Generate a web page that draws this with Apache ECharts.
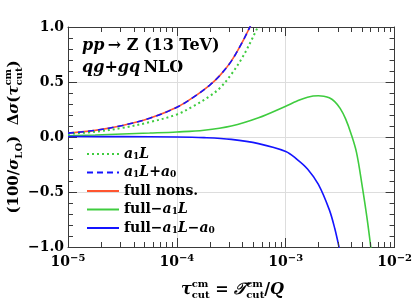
<!DOCTYPE html>
<html><head><meta charset="utf-8">
<script src="https://cdn.jsdelivr.net/npm/echarts@6/dist/echarts.min.js"></script>
<style>html,body{margin:0;padding:0;background:#fff}#c{width:415px;height:304px}</style>
</head><body><div id="c"></div>
<script>
// ---- data (x given as log10 of tau_cut) ----
const a1L_lt   = [-5.0, -4.75, -4.5, -4.25, -4.0, -3.85, -3.7, -3.6, -3.5, -3.4, -3.3, -3.2];
const a1L_y    = [0.028, 0.048, 0.083, 0.135, 0.205, 0.28, 0.37, 0.45, 0.57, 0.72, 0.91, 1.12];
const a1La0_lt = [-5.0, -4.75, -4.5, -4.25, -4.0, -3.85, -3.7, -3.6, -3.5, -3.4, -3.3, -3.25];
const a1La0_y  = [0.035, 0.06, 0.105, 0.17, 0.27, 0.36, 0.47, 0.565, 0.69, 0.86, 1.06, 1.17];
const full_lt  = [-5.0, -4.75, -4.5, -4.25, -4.0, -3.85, -3.7, -3.6, -3.5, -3.4, -3.3, -3.25];
const full_y   = [0.035, 0.06, 0.105, 0.17, 0.27, 0.36, 0.47, 0.565, 0.69, 0.86, 1.06, 1.17];
const fmA_lt   = [-5.0, -4.75, -4.5, -4.25, -4.0, -3.75, -3.5, -3.25, -3.0, -2.9, -2.8, -2.7, -2.65, -2.6, -2.55, -2.5, -2.45, -2.4, -2.35, -2.3, -2.25, -2.2];
const fmA_y    = [0.012, 0.018, 0.027, 0.036, 0.046, 0.062, 0.1, 0.175, 0.28, 0.325, 0.362, 0.375, 0.371, 0.356, 0.322, 0.26, 0.165, 0.03, -0.14, -0.43, -0.76, -1.15];
const fmAB_lt  = [-5.0, -4.5, -4.0, -3.75, -3.5, -3.25, -3.0, -2.9, -2.8, -2.7, -2.6, -2.55, -2.5];
const fmAB_y   = [0.004, 0.003, 0.0, -0.006, -0.022, -0.06, -0.132, -0.2, -0.29, -0.43, -0.66, -0.83, -1.05];
const xTickExps = [-5, -4, -3, -2];
const yTicks = [-1.0, -0.5, 0.0, 0.5, 1.0];
const seriesNames = ['a1L', 'a1L+a0', 'full nons.', 'full-a1L', 'full-a1L-a0'];

const toPts = (lt, y) => lt.map((e, i) => [Math.pow(10, e), y[i]]);
const xMin = Math.pow(10, xTickExps[0]), xMax = Math.pow(10, xTickExps[xTickExps.length - 1]);
const yMin = yTicks[0], yMax = yTicks[yTicks.length - 1];
const minorX = [];
for (let k = 0; k < xTickExps.length - 1; k++) for (let m = 2; m <= 9; m++) minorX.push(m * Math.pow(10, xTickExps[k]));

const SERIF = '"DejaVu Serif"';
const AX = '#3a3a3a';
const GREEN = '#3fcc3f', BLUE = '#1414ff', RED = '#ff5530';

// text layout helper for math-ish labels
const mctx = document.createElement('canvas').getContext('2d');
function layout(pieces) {
  let x = 0, lastX = 0; const out = [];
  pieces.forEach(p => {
    mctx.font = p.f; const w = mctx.measureText(p.t).width;
    let px;
    if (p.stack) { px = lastX; x = Math.max(x, lastX + w); }
    else { px = x; lastX = x; x += w; }
    out.push({ type: 'text', x: px, y: p.dy || 0, style: { text: p.t, font: p.f, fill: '#000', verticalAlign: 'middle' } });
  });
  return { children: out, width: x };
}
const B = s => 'bold ' + s + 'px ' + SERIF, BI = s => 'italic bold ' + s + 'px ' + SERIF;

const yl = layout([
  { t: '(100/', f: B(15) }, { t: 'σ', f: BI(15) }, { t: 'LO', f: B(10), dy: 5 }, { t: ')  Δ', f: B(15) },
  { t: 'σ', f: BI(15) }, { t: '(', f: B(15) }, { t: 'τ', f: BI(15) }, { t: 'cm', f: B(10), dy: -6 },
  { t: 'cut', f: B(10), dy: 5, stack: true }, { t: ')', f: B(15) }
]);
const xl = layout([
  { t: 'τ', f: BI(16) }, { t: 'cm', f: B(10), dy: -6 }, { t: 'cut', f: B(10), dy: 5, stack: true },
  { t: ' = ', f: B(16) }, { t: '𝒯', f: BI(16) }, { t: 'cm', f: B(10), dy: -6 }, { t: 'cut', f: B(10), dy: 5, stack: true },
  { t: '/', f: B(16) }, { t: 'Q', f: BI(16) }
]);

const legendRich = {
  'a1L': '{i|a}{s|1}{i|L}',
  'a1L+a0': '{i|a}{s|1}{i|L}{b|+}{i|a}{s|0}',
  'full nons.': '{b|full nons.}',
  'full-a1L': '{b|full−}{i|a}{s|1}{i|L}',
  'full-a1L-a0': '{b|full−}{i|a}{s|1}{i|L}{b|−}{i|a}{s|0}'
};

const chart = echarts.init(document.getElementById('c'), null, { renderer: 'canvas' });
const line = (name, pts, color, type, width, z) => ({
  name, type: 'line', data: pts, symbol: 'none', showSymbol: false, smooth: 0.35, clip: true, z,
  lineStyle: { color, type, width }, itemStyle: { color }, xAxisIndex: 0, yAxisIndex: 0
});
const baseGraphic = [
  { id: 'ann', type: 'text', left: 82, top: 38, style: {
    text: '{i|pp} {b|→ Z (13 TeV)}\n{i|qg}{b|+}{i|gq} {b|NLO}',
    rich: {
      i: { fontFamily: SERIF, fontStyle: 'italic', fontWeight: 'bold', fontSize: 16, lineHeight: 22, fill: '#000' },
      b: { fontFamily: SERIF, fontWeight: 'bold', fontSize: 16, lineHeight: 22, fill: '#000' }
    } } },
  { id: 'ylab', type: 'group', x: 14, y: 137 + yl.width / 2, rotation: Math.PI / 2, children: yl.children },
  { id: 'xlab', type: 'group', x: 232.5 - xl.width / 2, y: 290, children: xl.children }
];
chart.setOption({
  animation: false,
  grid: { left: 68, right: 18, top: 27, bottom: 57 },
  xAxis: [
    { type: 'log', logBase: 10, min: xMin, max: xMax, position: 'bottom',
      axisLine: { show: true, onZero: false, lineStyle: { color: AX, width: 1 } },
      axisTick: { show: true, inside: true, length: 9, lineStyle: { color: AX } },
      splitLine: { show: true, lineStyle: { color: '#ddd', width: 1 } },
      axisLabel: { margin: 6, color: '#000', fontFamily: SERIF, fontWeight: 'bold', fontSize: 14, lineHeight: 18,
        formatter: v => '10{s|' + String(Math.round(Math.log10(v))).replace('-', '−') + '}',
        rich: { s: { fontFamily: SERIF, fontWeight: 'bold', fontSize: 10, lineHeight: 12, verticalAlign: 'top' } } } },
    { type: 'log', logBase: 10, min: xMin, max: xMax, position: 'top',
      axisLine: { show: true, onZero: false, lineStyle: { color: AX, width: 1 } },
      axisTick: { show: true, inside: true, length: 9, lineStyle: { color: AX } },
      splitLine: { show: false }, axisLabel: { show: false } }
  ],
  yAxis: [
    { type: 'value', min: yMin, max: yMax, interval: 0.5, position: 'left',
      axisLine: { show: true, onZero: false, lineStyle: { color: AX, width: 1 } },
      axisTick: { show: true, inside: true, length: 9, lineStyle: { color: AX } },
      minorTick: { show: true, splitNumber: 5, length: 5, lineStyle: { color: AX } },
      splitLine: { show: true, lineStyle: { color: '#ddd', width: 1 } },
      axisLabel: { margin: 4, color: '#000', fontFamily: SERIF, fontWeight: 'bold', fontSize: 14,
        formatter: v => v.toFixed(1).replace('-', '−') } },
    { type: 'value', min: yMin, max: yMax, interval: 0.5, position: 'right',
      axisLine: { show: true, onZero: false, lineStyle: { color: AX, width: 1 } },
      axisTick: { show: true, inside: true, length: 9, lineStyle: { color: AX } },
      minorTick: { show: true, splitNumber: 5, length: 5, lineStyle: { color: AX } },
      splitLine: { show: false }, axisLabel: { show: false } }
  ],
  legend: {
    data: seriesNames, orient: 'vertical', left: 86, top: 147, padding: 0,
    itemWidth: 32, itemHeight: 14, itemGap: 4.5, selectedMode: false,
    itemStyle: { opacity: 0, borderWidth: 0 },
    formatter: n => legendRich[n],
    textStyle: { rich: {
      i: { fontFamily: SERIF, fontStyle: 'italic', fontWeight: 'bold', fontSize: 14, color: '#000', lineHeight: 14 },
      b: { fontFamily: SERIF, fontWeight: 'bold', fontSize: 14, color: '#000', lineHeight: 14 },
      s: { fontFamily: SERIF, fontWeight: 'bold', fontSize: 9, color: '#000', lineHeight: 8, verticalAlign: 'bottom' }
    } }
  },
  graphic: baseGraphic,
  series: [
    line('full nons.', toPts(full_lt, full_y), RED, 'solid', 1.6, 2),
    line('a1L', toPts(a1L_lt, a1L_y), GREEN, [2, 3], 2, 3),
    line('a1L+a0', toPts(a1La0_lt, a1La0_y), BLUE, [6, 4], 1.6, 4),
    line('full-a1L', toPts(fmA_lt, fmA_y), GREEN, 'solid', 1.6, 3),
    line('full-a1L-a0', toPts(fmAB_lt, fmAB_y), BLUE, 'solid', 1.6, 3)
  ]
});
// minor log ticks on bottom and top, placed through the axis scale
const yb = chart.convertToPixel({ yAxisIndex: 0 }, yMin), yt = chart.convertToPixel({ yAxisIndex: 0 }, yMax);
const tickEls = [];
minorX.forEach((v, i) => {
  const px = Math.round(chart.convertToPixel({ xAxisIndex: 0 }, v)) + 0.5;
  tickEls.push({ id: 'tb' + i, type: 'line', z: 10, shape: { x1: px, y1: yb, x2: px, y2: yb - 5 }, style: { stroke: AX, lineWidth: 1 } });
  tickEls.push({ id: 'tt' + i, type: 'line', z: 10, shape: { x1: px, y1: yt, x2: px, y2: yt + 5 }, style: { stroke: AX, lineWidth: 1 } });
});
chart.setOption({ graphic: baseGraphic.concat(tickEls) });
</script></body></html>
